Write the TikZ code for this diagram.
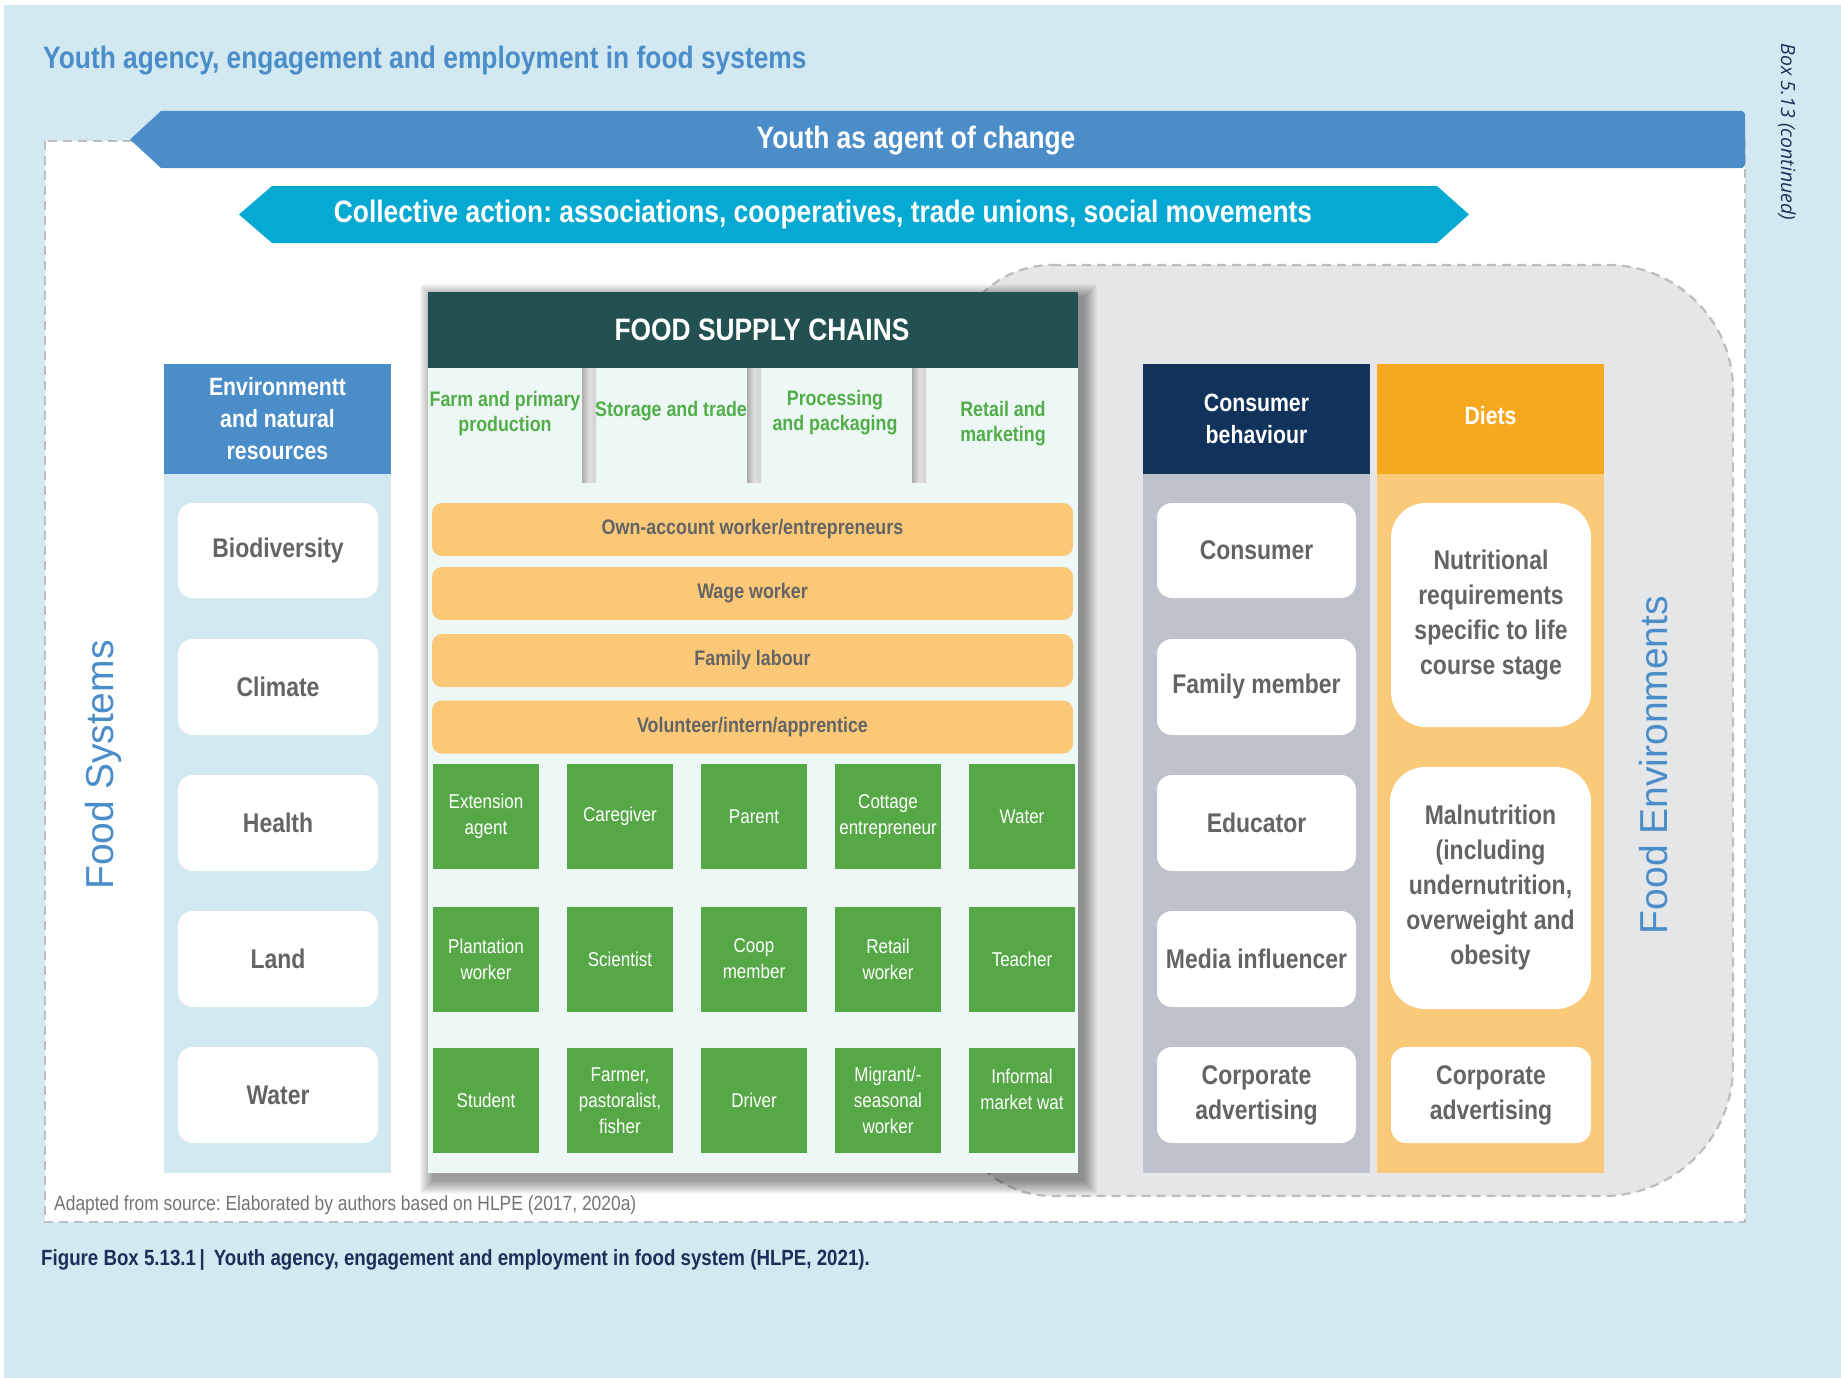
\documentclass[tikz,border=0pt]{standalone}
\usepackage{fontspec}
\setmainfont{Liberation Sans}[FakeStretch=0.85]
\newfontfamily\widesans{Liberation Sans}
\newfontfamily\itsans{Open Sans}
\definecolor{bgblue}{HTML}{D3E9F1}
\definecolor{topblue}{HTML}{4A8DC9}
\definecolor{cyanarrow}{HTML}{06A9D2}
\definecolor{darkgreen}{HTML}{235050}
\definecolor{panelbody}{HTML}{EDF7F6}
\definecolor{barorange}{HTML}{FBC877}
\definecolor{txtgray}{HTML}{636466}
\definecolor{boxgreen}{HTML}{56A847}
\definecolor{labgreen}{HTML}{52AE48}
\definecolor{navy}{HTML}{11325A}
\definecolor{consbody}{HTML}{BFC1CD}
\definecolor{dietorange}{HTML}{F8A81F}
\definecolor{dietbody}{HTML}{FBC97A}
\definecolor{regiongray}{HTML}{E5E6E8}
\definecolor{dashgray}{HTML}{BDBDBD}
\definecolor{capnavy}{HTML}{1E2E58}
\newcommand{\fsz}[2]{\fontsize{#1}{#2}\selectfont}
\begin{document}
\frenchspacing
\begin{tikzpicture}[x=1pt,y=-1pt,
  dashline/.style={draw=dashgray,line width=2.2pt,dash pattern=on 9pt off 6pt},
  whitebox/.style={fill=white,rounded corners=15pt,inner sep=0pt,align=center,
    text=txtgray,font=\bfseries\fsz{27}{35},minimum width=200pt},
  greenbox/.style={fill=boxgreen,inner sep=0pt,align=center,text=white,
    font=\fsz{20}{26},minimum width=106pt,minimum height=105pt},
  orangebar/.style={fill=barorange,rounded corners=10pt,inner sep=0pt,
    text=txtgray,font=\bfseries\fsz{21}{25},minimum width=641pt,minimum height=53pt},
  stagelabel/.style={inner sep=0pt,align=center,text=labgreen,font=\bfseries\fsz{21}{25}},
  colhead/.style={inner sep=0pt,align=center,text=white,font=\bfseries\fsz{25}{32}},
  divider/.style={left color=gray!65,right color=gray!35,middle color=gray!25,draw=none},
  plaintext/.style={inner sep=0pt}
]
\useasboundingbox (0,0) rectangle (1841,1378);
\fill[white] (0,0) rectangle (1841,1378);
\fill[bgblue] (4,5) rectangle (1841,1378);

% title
\node[plaintext,anchor=west,text=topblue,font=\bfseries\fsz{31}{37}] (title) at (43,61)
  {Youth agency, engagement and employment in food systems};
\node[plaintext,rotate=-90,text=capnavy,font=\itsans\itshape\fsz{19.5}{23}] (boxlabel) at (1787,132)
  {Box 5.13 (continued)};

% dashed white frame
\path[fill=white,dashline] (45,141) rectangle (1745,1222);

% food environments region
\path[fill=regiongray,dashline]
 (1052,265) -- (1608,265) .. controls (1677,265) and (1733,321) .. (1733,390)
 -- (1733,1066) .. controls (1733,1138) and (1675,1196) .. (1603,1196)
 -- (1052,1196) .. controls (997,1196) and (952,1151) .. (952,1096)
 -- (952,365) .. controls (952,310) and (997,265) .. (1052,265) -- cycle;

% arrows
\fill[topblue] (130,139.5) -- (161,111) -- (1742,111) -- (1745,114) -- (1745,165) -- (1742,168) -- (161,168) -- cycle;
\node[plaintext,text=white,font=\bfseries\fsz{31}{37}] (agent) at (916,141) {Youth as agent of change};
\fill[cyanarrow] (239,214.5) -- (272,186) -- (1437,186) -- (1469,214.5) -- (1437,243) -- (272,243) -- cycle;
\node[plaintext,text=white,font=\bfseries\fsz{31}{37}] (collective) at (823,214)
  {Collective action: associations, cooperatives, trade unions, social movements};

% side labels
\node[plaintext,rotate=90,text=topblue,font=\widesans\fsz{39}{44}] (foodsys) at (103,765) {Food Systems};
\node[plaintext,rotate=90,text=topblue,font=\widesans\fsz{39}{44}] (foodenv) at (1654,765) {Food Environments};

% environment column
\fill[bgblue] (164,474) rectangle (391,1173);
\node[fill=topblue,colhead,minimum width=227pt,minimum height=110pt] (envhead) at (277.5,419)
  {Environmentt\\and natural\\resources};
\node[whitebox,minimum height=95pt] (bio) at (278,550.5) {Biodiversity};
\node[whitebox,minimum height=96pt] (climate) at (278,687) {Climate};
\node[whitebox,minimum height=96pt] (health) at (278,823) {Health};
\node[whitebox,minimum height=96pt] (land) at (278,959) {Land};
\node[whitebox,minimum height=96pt] (water) at (278,1095) {Water};

% food supply chains panel with soft shadow
\foreach \i in {0,...,13}{
  \fill[black,opacity=0.03] (433-\i,297-\i) rectangle (1084+\i,1181+\i);
}
\fill[panelbody] (428,292) rectangle (1078,1173);
\node[fill=darkgreen,inner sep=0pt,minimum width=650pt,minimum height=76pt] (fschead) at (753,330) {};
\node[plaintext,text=white,font=\bfseries\fsz{31}{37}] (fsctitle) at (762,330) {FOOD SUPPLY CHAINS};
\fill[divider] (582,368) rectangle (596,482);
\fill[divider] (747,368) rectangle (761,482);
\fill[divider] (912,368) rectangle (926,482);
\node[stagelabel] (farm) at (505,414) {Farm and primary\\production};
\node[stagelabel] (storage) at (671,411) {Storage and trade};
\node[stagelabel] (processing) at (835,413) {Processing\\and packaging};
\node[stagelabel] (retail) at (1003,424) {Retail and\\marketing};

\node[orangebar] (own) at (752.5,529.5) {Own-account worker/entrepreneurs};
\node[orangebar] (wage) at (752.5,593.5) {Wage worker};
\node[orangebar] (family) at (752.5,660.5) {Family labour};
\node[orangebar] (volunteer) at (752.5,727) {Volunteer/intern/apprentice};

\node[greenbox] (g11) at (486,816.5) {Extension\\agent};
\node[greenbox] (g12) at (620,816.5) {Caregiver};
\node[greenbox] (g13) at (754,816.5) {Parent};
\node[greenbox] (g14) at (888,816.5) {Cottage\\entrepreneur};
\node[greenbox] (g15) at (1022,816.5) {Water};
\node[greenbox] (g21) at (486,959) {Plantation\\worker};
\node[greenbox] (g22) at (620,959) {Scientist};
\node[greenbox] (g23) at (754,959) {Coop\\member};
\node[greenbox] (g24) at (888,959) {Retail\\worker};
\node[greenbox] (g25) at (1022,959) {Teacher};
\node[greenbox] (g31) at (486,1100.5) {Student};
\node[greenbox] (g32) at (620,1100.5) {Farmer,\\pastoralist,\\fisher};
\node[greenbox] (g33) at (754,1100.5) {Driver};
\node[greenbox] (g34) at (888,1100.5) {Migrant/-\\seasonal\\worker};
\node[greenbox] (g35) at (1022,1100.5) {};
\node[plaintext,align=center,text=white,font=\fsz{20}{26}] (g35t) at (1022,1089) {Informal\\market wat};

% consumer behaviour column
\fill[consbody] (1143,474) rectangle (1370,1173);
\node[fill=navy,colhead,minimum width=227pt,minimum height=110pt] (conshead) at (1256.5,419)
  {Consumer\\behaviour};
\node[whitebox,minimum width=199pt,minimum height=95pt] (consumer) at (1256.5,550.5) {Consumer};
\node[whitebox,minimum width=199pt,minimum height=96pt] (familym) at (1256.5,687) {Family member};
\node[whitebox,minimum width=199pt,minimum height=96pt] (educator) at (1256.5,823) {Educator};
\node[whitebox,minimum width=199pt,minimum height=96pt] (media) at (1256.5,959) {Media influencer};
\node[whitebox,minimum width=199pt,minimum height=96pt] (corp1) at (1256.5,1095) {Corporate\\advertising};

% diets column
\fill[dietbody] (1377,474) rectangle (1604,1173);
\node[fill=dietorange,colhead,minimum width=227pt,minimum height=110pt] (diethead) at (1490.5,419) {};
\node[plaintext,text=white,font=\bfseries\fsz{25}{32}] (diettext) at (1490.5,416) {Diets};
\node[whitebox,rounded corners=35pt,minimum width=200pt,minimum height=224pt] (nutri) at (1491,615)
  {Nutritional\\requirements\\specific to life\\course stage};
\node[whitebox,rounded corners=35pt,minimum width=201pt,minimum height=242pt] (malnu) at (1490.5,888)
  {Malnutrition\\(including\\undernutrition,\\overweight and\\obesity};
\node[whitebox,minimum width=200pt,minimum height=96pt] (corp2) at (1491,1095) {Corporate\\advertising};

% footer texts
\node[plaintext,anchor=west,text=txtgray!90,font=\fsz{20.5}{24}] (source) at (54,1205)
  {Adapted from source: Elaborated by authors based on HLPE (2017, 2020a)};
\node[plaintext,anchor=west,text=capnavy,font=\bfseries\fsz{22}{26}] (caption) at (41,1260)
  {Figure Box 5.13.1\,|\, Youth agency, engagement and employment in food system (HLPE, 2021).};
\end{tikzpicture}
\end{document}
